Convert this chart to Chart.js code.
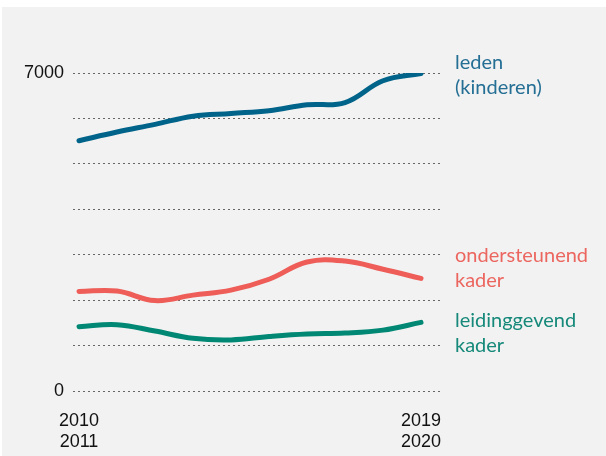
<!DOCTYPE html>
<html>
<head>
<meta charset="utf-8">
<script src="https://cdn.jsdelivr.net/npm/chart.js@4"></script>
<style>
  html, body { margin: 0; padding: 0; background: #fff; }
  #bg { position: absolute; left: 2px; top: 7px; width: 604px; height: 449px; background: #f2f2f2; }
  #wrap { position: absolute; left: 0; top: 0; width: 606px; height: 456px; }
</style>
</head>
<body>
<div id="bg"></div>
<div id="wrap"><canvas id="chart"></canvas></div>
<script>
// seasons on the x axis, only first and last get a label
const seasons = ['2010-2011', '2011-2012', '2012-2013', '2013-2014', '2014-2015',
  '2015-2016', '2016-2017', '2017-2018', '2018-2019', '2019-2020'];

const leden = [5510, 5700, 5870, 6050, 6110, 6170, 6300, 6350, 6830, 6990];
const ondersteunend = [2190, 2200, 1990, 2110, 2220, 2460, 2840, 2860, 2680, 2480];
const leidinggevend = [1415, 1460, 1320, 1160, 1125, 1200, 1255, 1275, 1340, 1510];

const yTicks = [0, 7000];

const seriesNames = [['leden', '(kinderen)'], ['ondersteunend', 'kader'], ['leidinggevend', 'kader']];

function toPoints(values) {
  return values.map((v, i) => ({ x: i, y: v }));
}

// draws the series names to the right of the plot
const endLabels = {
  id: 'endLabels',
  afterDatasetsDraw(chart) {
    const ctx = chart.ctx;
    const offsets = [-4, -16, 5];
    ctx.save();
    ctx.font = '20px Lato';
    ctx.textAlign = 'left';
    ctx.textBaseline = 'alphabetic';
    chart.data.datasets.forEach((ds, i) => {
      const meta = chart.getDatasetMeta(i);
      const last = meta.data[meta.data.length - 1];
      ctx.fillStyle = ds.labelColor;
      seriesNames[i].forEach((line, j) => {
        ctx.fillText(line, 455, last.y + offsets[i] + j * 25);
      });
    });
    ctx.restore();
  }
};

const commonLine = {
  borderWidth: 5,
  pointRadius: 0,
  tension: 0.4,
  borderCapStyle: 'round',
  borderJoinStyle: 'round',
  fill: false
};

new Chart(document.getElementById('chart'), {
  type: 'line',
  data: {
    datasets: [
      { ...commonLine, data: toPoints(leden), borderColor: '#00648a', labelColor: '#256f95' },
      { ...commonLine, data: toPoints(ondersteunend), borderColor: '#ee5d57', labelColor: '#ec6660' },
      { ...commonLine, data: toPoints(leidinggevend), borderColor: '#008874', labelColor: '#16897a' }
    ]
  },
  options: {
    responsive: true,
    maintainAspectRatio: false,
    animation: false,
    layout: { padding: { top: 73, right: 165, left: 0, bottom: 0 } },
    plugins: {
      legend: { display: false },
      tooltip: { enabled: false }
    },
    scales: {
      x: {
        type: 'linear',
        min: -0.158,
        max: 9.526,
        grid: { display: false },
        border: { display: false },
        afterBuildTicks: (axis) => {
          axis.ticks = [{ value: 0 }, { value: seasons.length - 1 }];
        },
        afterFit: (axis) => {
          axis.height = 65;
        },
        ticks: {
          autoSkip: false,
          maxRotation: 0,
          padding: 11,
          color: '#111',
          font: { family: 'Liberation Sans', size: 18, lineHeight: 1.2 },
          callback: (value) => seasons[value].split('-')
        }
      },
      y: {
        min: 0,
        max: 7000,
        afterBuildTicks: (axis) => {
          const ticks = [];
          for (let v = 0; v <= 7000; v += 1000) {
            ticks.push({ value: v });
          }
          axis.ticks = ticks;
        },
        afterFit: (axis) => {
          axis.width = 73;
        },
        grid: {
          color: '#666',
          lineWidth: 1,
          drawTicks: false
        },
        border: { display: false, dash: [2, 3] },
        ticks: {
          padding: 9,
          color: '#111',
          font: { family: 'Liberation Sans', size: 18 },
          callback: (value) => (yTicks.includes(value) ? String(value) : '')
        }
      }
    }
  },
  plugins: [endLabels]
});
</script>
</body>
</html>
